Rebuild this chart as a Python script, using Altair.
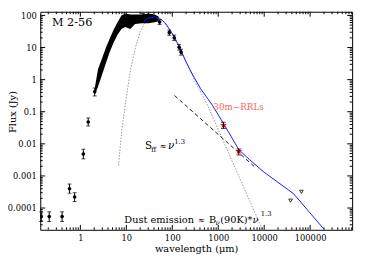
import altair as alt
import pandas as pd

FONT = "DejaVu Serif"

# ---------------- axes / ticks ----------------
X_DOMAIN = [0.134, 820000]
Y_DOMAIN = [2.1e-5, 130]
x_major = [1, 10, 100, 1000, 10000, 100000]
y_major = [0.0001, 0.001, 0.01, 0.1, 1, 10, 100]
x_decades = [0.1, 1, 10, 100, 1000, 10000, 100000]
y_decades = [0.00001, 0.0001, 0.001, 0.01, 0.1, 1, 10, 100]
minor_mult = [2, 3, 4, 5, 6, 7, 8, 9]
x_minor = [d * m for d in x_decades for m in minor_mult if X_DOMAIN[0] <= d * m <= X_DOMAIN[1]]
y_minor = [d * m for d in y_decades for m in minor_mult if Y_DOMAIN[0] <= d * m <= Y_DOMAIN[1]]

# ---------------- data ----------------
# dense spectrum (band of many points)
cloud_lam = [2.08, 2.42, 2.94, 3.57, 4.35, 5.29, 6.44, 7.83, 9.5, 12.2, 15.5, 21.9, 30.8, 41.4, 50.4]
cloud_lo = [0.35, 0.6, 1.38, 3.2, 7.2, 14.4, 25, 38, 43.6, 38, 53.7, 57.5, 57.5, 61.6, 66]
cloud_hi = [0.6, 2.1, 4.5, 9.6, 19, 35.5, 61.6, 100, 115, 107, 107, 107, 115, 107, 93]

# photometry with error bars
pt_lam = [0.14, 0.21, 0.40, 0.58, 0.75, 1.16, 1.48, 2.05, 23, 53, 86, 110, 141, 155]
pt_flux = [5.4e-5, 5.4e-5, 5.4e-5, 4.0e-4, 2.2e-4, 4.8e-3, 0.048, 0.42, 95, 62, 29, 20, 10.2, 7.2]
pt_lo = [3.8e-5, 3.8e-5, 3.8e-5, 2.9e-4, 1.6e-4, 3.4e-3, 0.036, 0.31, 80, 52, 24, 16.5, 8.3, 5.8]
pt_hi = [7.6e-5, 7.6e-5, 7.6e-5, 5.6e-4, 3.0e-4, 6.8e-3, 0.064, 0.55, 115, 74, 35, 24.5, 12.5, 8.9]

# 30m RRL points
rrl_lam = [1300, 2800]
rrl_flux = [0.038, 0.0059]
rrl_lo = [0.030, 0.0045]
rrl_hi = [0.047, 0.0069]

# radio points (triangles)
tri_lam = [37500, 64500]
tri_flux = [1.7e-4, 3.2e-4]

# model curve (blue)
blue_lam = [24.1, 30.8, 41.4, 52.9, 67.6, 86.3, 110, 148, 199, 280, 414, 745, 1277, 2800, 4800, 10000, 43500, 199000]
blue_flux = [66, 84, 90, 81, 61.7, 38, 21.8, 9.5, 3.6, 1.38, 0.52, 0.16, 0.045, 0.0066, 0.0032, 0.0013, 2.8e-4, 2.2e-5]

# dust emission (grey dotted)
dust_lam = [6.76, 7.94, 9.66, 12.3, 15.8, 20.1, 25.7, 32.9, 41.4, 52.9, 67.6, 110, 199, 324, 583, 1277, 9070]
dust_flux = [0.00213, 0.026, 0.2, 2.0, 10, 31.6, 63, 83, 88, 80, 60, 21, 3.5, 0.79, 0.16, 0.0126, 2.2e-5]

# free-free (dashed)
ff_lam = [112, 6000]
ff_flux = [0.32, 0.002]

# annotations
ann_txt = ["M 2-56", "30m\u2212RRLs", "S", "ff", "\u2248", "1.3", "Dust emission", "\u2248", "B", "(90K)*", "1.3"]
ann_lam = [0.241, 782, 25.4, 34.9, 52.9, 110, 9.06, 357, 628, 1104, 8430]
ann_flux = [57.5, 0.141, 0.0083, 0.00653, 0.0083, 0.01135, 4.36e-5, 4.36e-5, 4.36e-5, 4.36e-5, 6.6e-5]
ann_size = [11.5, 9, 10.5, 7, 9, 7, 10, 9, 10, 10, 7]
ann_col = ["black", "#ff6464", "black", "black", "black", "black", "black", "black", "black", "black", "black"]
ital_txt = ["\u03bd", "\u03bd", "\u03bd"]
ital_lam = [80.2, 876, 5555]
ital_flux = [0.0083, 3.3e-5, 4.36e-5]
ital_size = [10.5, 7, 10]

# ---------------- frames ----------------
cloud_df = pd.DataFrame({"lam": cloud_lam, "lo": cloud_lo, "hi": cloud_hi})
pt_df = pd.DataFrame({"lam": pt_lam, "flux": pt_flux, "lo": pt_lo, "hi": pt_hi})
rrl_df = pd.DataFrame({"lam": rrl_lam, "flux": rrl_flux, "lo": rrl_lo, "hi": rrl_hi})
tri_df = pd.DataFrame({"lam": tri_lam, "flux": tri_flux})
blue_df = pd.DataFrame({"lam": blue_lam, "flux": blue_flux})
dust_df = pd.DataFrame({"lam": dust_lam, "flux": dust_flux})
ff_df = pd.DataFrame({"lam": ff_lam, "flux": ff_flux})
ann_df = pd.DataFrame({"lam": ann_lam, "flux": ann_flux, "txt": ann_txt, "size": ann_size, "col": ann_col})
ital_df = pd.DataFrame({"lam": ital_lam, "flux": ital_flux, "txt": ital_txt, "size": ital_size})

W, H = 319, 223
xs = alt.Scale(type="log", domain=X_DOMAIN, nice=False)
ys = alt.Scale(type="log", domain=Y_DOMAIN, nice=False)

LAB = dict(labelFont=FONT, labelFontSize=8.5, labelColor="black", labelOverlap=False, labelPadding=4,
           labelFlush=False, titleFont=FONT, titleFontSize=10, titleFontWeight="normal", titleColor="black")
FRAME = dict(domain=True, domainColor="black", domainWidth=1, grid=False, ticks=False)

ax_x_lab = alt.Axis(orient="bottom", values=x_major, format="~g", title="wavelength (\u03bcm)",
                    titlePadding=2, **FRAME, **LAB)
ax_y_lab = alt.Axis(orient="left", values=y_major, format="~g", title="Flux (Jy)", titleX=-28, titleY=102,
                    titleBaseline="middle", **FRAME, **LAB)
ax_x_top = alt.Axis(orient="top", values=x_major, labels=False, title=None, **FRAME)
ax_y_rgt = alt.Axis(orient="right", values=y_major, labels=False, title=None, **FRAME)


def X(axis=None):
    return alt.X("lam:Q", scale=xs, axis=axis)


def Y(field="flux", axis=None):
    return alt.Y(field + ":Q", scale=ys, axis=axis)


# inward tick marks on all four sides, placed through the scales
def xtick_layer(values, top, length):
    df = pd.DataFrame({"lam": values})
    if top:
        ypos = dict(y=alt.value(0), y2=alt.value(length))
    else:
        ypos = dict(y=alt.value(H), y2=alt.value(H - length))
    return alt.Chart(df).mark_rule(color="black", strokeWidth=1).encode(x=X(), **ypos)


def ytick_layer(values, right, length):
    df = pd.DataFrame({"flux": values})
    if right:
        xpos = dict(x=alt.value(W), x2=alt.value(W - length))
    else:
        xpos = dict(x=alt.value(0), x2=alt.value(length))
    return alt.Chart(df).mark_rule(color="black", strokeWidth=1).encode(y=Y(), **xpos)


ticks = [
    xtick_layer(x_major, False, 5), xtick_layer(x_minor, False, 2.5),
    xtick_layer(x_major, True, 5), xtick_layer(x_minor, True, 2.5),
    ytick_layer(y_major, False, 5), ytick_layer(y_minor, False, 2.5),
    ytick_layer(y_major, True, 5), ytick_layer(y_minor, True, 2.5),
]

dust = alt.Chart(dust_df).mark_line(color="#8a8a8a", strokeWidth=0.9, strokeDash=[1.5, 1.5], clip=True).encode(
    x=X(ax_x_lab), y=Y("flux", ax_y_lab))
ff = alt.Chart(ff_df).mark_line(color="black", strokeWidth=0.9, strokeDash=[4, 3], clip=True).encode(
    x=X(ax_x_top), y=Y("flux", ax_y_rgt))
band = alt.Chart(cloud_df).mark_area(color="black", clip=True).encode(x=X(), y=Y("lo"), y2="hi:Q")
blue = alt.Chart(blue_df).mark_line(color="#1a1aff", strokeWidth=1, clip=True).encode(x=X(), y=Y())
pts_err = alt.Chart(pt_df).mark_errorbar(ticks=True, size=4, thickness=1, color="black").encode(
    x=X(), y=Y("lo"), y2="hi:Q")
pts = alt.Chart(pt_df).mark_circle(size=14, color="black", opacity=1, clip=True).encode(x=X(), y=Y())
STAR = "M0,-1L0.2245,-0.309L0.951,-0.309L0.363,0.118L0.588,0.809L0,0.382L-0.588,0.809L-0.363,0.118L-0.951,-0.309L-0.2245,-0.309Z"
stars = alt.Chart(rrl_df).mark_point(shape=STAR, size=55, filled=True, color="#ff0000", opacity=1).encode(
    x=X(), y=Y())
rrl_err = alt.Chart(rrl_df).mark_errorbar(ticks=True, size=5, thickness=1, color="black").encode(
    x=X(), y=Y("lo"), y2="hi:Q")
tris = alt.Chart(tri_df).mark_point(shape="triangle-down", size=14, filled=False, color="black",
                                    strokeWidth=0.8, opacity=1).encode(x=X(), y=Y())
ann = alt.Chart(ann_df).mark_text(font=FONT, align="left", baseline="middle").encode(
    x=X(), y=Y(), text="txt:N", size=alt.Size("size:Q", scale=None), color=alt.Color("col:N", scale=None))
ital = alt.Chart(ital_df).mark_text(font=FONT, align="left", baseline="middle", fontStyle="italic",
                                    color="black").encode(
    x=X(), y=Y(), text="txt:N", size=alt.Size("size:Q", scale=None))

chart = alt.layer(dust, ff, *ticks, band, blue, pts_err, pts, stars, rrl_err, tris, ann, ital).resolve_axis(
    x="independent", y="independent"
).properties(
    width=W, height=H, autosize=alt.AutoSizeParams(type="none"),
    padding={"left": 33, "top": 1, "right": 6, "bottom": 26}, background="white"
).configure_view(strokeWidth=0)

chart.save("out.html", embed_options={"renderer": "svg", "actions": False})
